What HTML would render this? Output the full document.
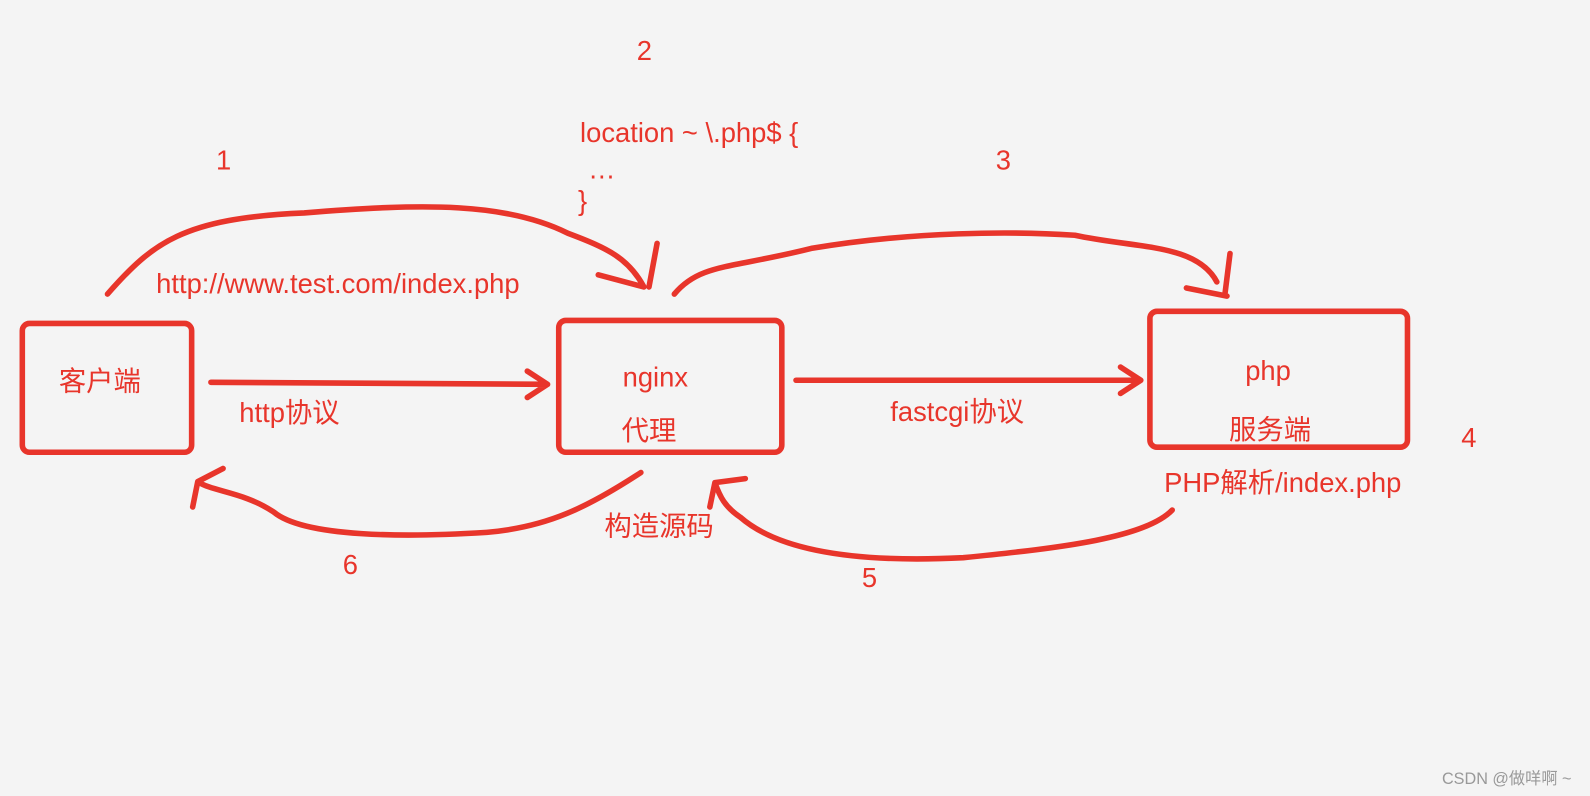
<!DOCTYPE html>
<html><head><meta charset="utf-8"><style>
html,body{margin:0;padding:0;background:#f4f4f4;}
svg{display:block}
text{font-family:"Liberation Sans","Noto Sans CJK SC",sans-serif;fill:#e8352b;font-size:27px}
</style></head><body>
<svg width="1590" height="796" viewBox="0 0 1568 785" preserveAspectRatio="none" xmlns="http://www.w3.org/2000/svg">
<rect width="1568" height="785" fill="#f4f4f4"/>
<g fill="none" stroke="#e8352b" stroke-width="5.5" stroke-linecap="round" stroke-linejoin="round">
<rect x="22" y="319" width="167" height="127" rx="7"/>
<rect x="551" y="316" width="220" height="130" rx="7"/>
<rect x="1134" y="307" width="254" height="134" rx="7"/>
<path d="M208 377 L540 379 M520 366 L540 379 L520 392"/>
<path d="M785 375 L1125 375 M1105 362 L1125 375 L1105 388"/>
<path d="M106 290 C150 240 180 215 300 210 C420 200 500 200 560 230 C600 245 620 255 635 283 M590 271 L635 283 M648 240 L640 283"/>
<path d="M665 290 C690 260 720 265 800 245 C900 228 1000 228 1060 232 C1120 245 1180 240 1200 278 M1170 284 L1210 292 M1213 250 L1208 290"/>
<path d="M632 466 C580 500 540 520 480 525 C400 530 300 530 270 505 C240 485 210 485 195 475 M220 462 L195 475 L190 500"/>
<path d="M1156 503 C1130 530 1050 540 950 550 C850 555 770 545 730 510 C715 500 710 490 705 476 M735 472 L705 476 L700 500"/>
</g>
<text x="58" y="385">客户端</text>
<text x="236" y="416">http协议</text>
<text x="614" y="381">nginx</text>
<text x="613" y="434">代理</text>
<text x="878" y="415">fastcgi协议</text>
<text x="1228" y="375">php</text>
<text x="1212" y="433">服务端</text>
<text x="1441" y="441">4</text>
<text x="1148" y="485">PHP解析/index.php</text>
<text x="596" y="528">构造源码</text>
<text x="338" y="566">6</text>
<text x="850" y="579">5</text>
<text x="213" y="167">1</text>
<text x="628" y="59">2</text>
<text x="982" y="167">3</text>
<text x="572" y="140">location ~ \.php$ {</text>
<text x="580" y="176">…</text>
<text x="570" y="207">}</text>
<text x="154" y="289">http://www.test.com/index.php</text>
<text x="1422" y="773" style="fill:#999;font-size:16px">CSDN @做咩啊 ~</text>
</svg>
</body></html>
